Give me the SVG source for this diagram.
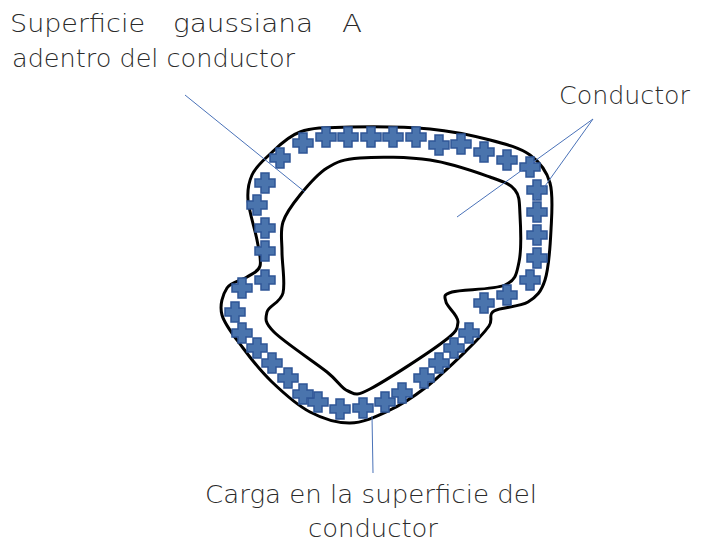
<svg xmlns="http://www.w3.org/2000/svg" xmlns:xlink="http://www.w3.org/1999/xlink" width="701" height="548" viewBox="0 0 701 548">
<style>
.lbl{font-family:"Segoe Print","DejaVu Sans","Liberation Sans",sans-serif;font-weight:200;font-size:24px;fill:#2a2a2a}
.ln{stroke:#4a72b8;stroke-width:1;fill:none}
.shape{fill:none;stroke:#000;stroke-width:3;stroke-linejoin:round}
.pl{fill:#4a74ad;stroke:#2f5597;stroke-width:1.5}
</style>
<defs>
<path id="plus" class="pl" d="M-4,-10 H4 V-4 H10 V4 H4 V10 H-4 V4 H-10 V-4 H-4 Z"/>
</defs>
<rect width="701" height="548" fill="#fff"/>
<g id="outer-surface">
<path class="shape" d="M300,132 C313.7,127.2 328.3,127.5 350,127 S406.7,126.8 430,129 S473.3,135.7 490,140 S520,147.8 530,155 S546.5,170.5 550,183 S551.8,213.8 551,230 S548.8,268 545,280 S536.5,296.8 528,302 S500.5,307 494,311 S493.7,319.3 489,326 S476.7,340.7 466,351 S438,378 425,388 S400.5,405.2 388,411 S363,422.8 350,423 S323,418.8 310,412 S283.2,392.7 272,382 S251.3,359.2 243,348 S224.7,325 222,315 S222.8,294.3 227,288 S241.5,280.7 247,277 S258.3,272.2 260,266 S259,251 257,240 S248.8,210.8 248,200 S248.7,182.3 252,175 S260,163.2 268,156 S286.3,136.8 300,132 Z"/>
</g>
<g id="gaussian-surface">
<path class="shape" d="M300,195 C307.3,186 317,174.2 327,168 S342.8,159.3 360,158 S408.3,156.8 430,160 S475.8,172 490,177 S510,183.7 515,190 S519.3,203 520,215 S521.5,250.3 519,262 S516.2,280 505,285 S461.8,289.2 452,292 S445,297 446,302 S458.5,315.3 458,322 S457.7,330.8 443,342 S385.8,380.8 370,389 S355.2,393.8 348,391 S339.3,381.8 327,372 S284,342 274,332 S265.5,318.5 267,312 S280.5,303 283,293 S282,263.8 282,252 S280,231.5 283,222 S292.7,204 300,195 Z"/>
</g>
<g id="charges">
<use href="#plus" x="303" y="143"/>
<use href="#plus" x="326" y="137"/>
<use href="#plus" x="348" y="137"/>
<use href="#plus" x="371" y="137"/>
<use href="#plus" x="393" y="137"/>
<use href="#plus" x="416" y="137"/>
<use href="#plus" x="439" y="145"/>
<use href="#plus" x="461" y="144"/>
<use href="#plus" x="484" y="152"/>
<use href="#plus" x="507" y="160"/>
<use href="#plus" x="530" y="167"/>
<use href="#plus" x="537" y="190"/>
<use href="#plus" x="537" y="212"/>
<use href="#plus" x="537" y="235"/>
<use href="#plus" x="537" y="258"/>
<use href="#plus" x="530" y="280"/>
<use href="#plus" x="507" y="295"/>
<use href="#plus" x="484" y="303"/>
<use href="#plus" x="469" y="333"/>
<use href="#plus" x="454" y="348"/>
<use href="#plus" x="439" y="363"/>
<use href="#plus" x="424" y="378"/>
<use href="#plus" x="402" y="393"/>
<use href="#plus" x="385" y="402"/>
<use href="#plus" x="363" y="408"/>
<use href="#plus" x="340" y="409"/>
<use href="#plus" x="318" y="402"/>
<use href="#plus" x="303" y="394"/>
<use href="#plus" x="288" y="378"/>
<use href="#plus" x="272" y="363"/>
<use href="#plus" x="257" y="348"/>
<use href="#plus" x="242" y="333"/>
<use href="#plus" x="235" y="312"/>
<use href="#plus" x="242" y="288"/>
<use href="#plus" x="265" y="280"/>
<use href="#plus" x="265" y="251"/>
<use href="#plus" x="265" y="228"/>
<use href="#plus" x="257" y="205"/>
<use href="#plus" x="265" y="183"/>
<use href="#plus" x="280" y="158"/>
</g>
<g id="connectors">
<line class="ln" x1="185" y1="95" x2="305" y2="192"/>
<line class="ln" x1="593" y1="119" x2="457" y2="217"/>
<line class="ln" x1="593" y1="119" x2="535" y2="200"/>
<line class="ln" x1="372" y1="416" x2="373" y2="473"/>
</g>
<g id="label-gauss">
<text class="lbl" x="10" y="32" textLength="135" lengthAdjust="spacingAndGlyphs">Superficie</text>
<text class="lbl" x="173" y="32" textLength="140" lengthAdjust="spacingAndGlyphs">gaussiana</text>
<text class="lbl" x="342" y="32" textLength="20" lengthAdjust="spacingAndGlyphs">A</text>
<text class="lbl" x="12" y="67" textLength="283" lengthAdjust="spacingAndGlyphs">adentro del conductor</text>
</g>
<g id="label-conductor">
<text class="lbl" x="559" y="104" textLength="131" lengthAdjust="spacingAndGlyphs">Conductor</text>
</g>
<g id="label-carga">
<text class="lbl" x="205" y="503" textLength="332" lengthAdjust="spacingAndGlyphs">Carga en la superficie del</text>
<text class="lbl" x="308" y="537" textLength="130" lengthAdjust="spacingAndGlyphs">conductor</text>
</g>
</svg>
